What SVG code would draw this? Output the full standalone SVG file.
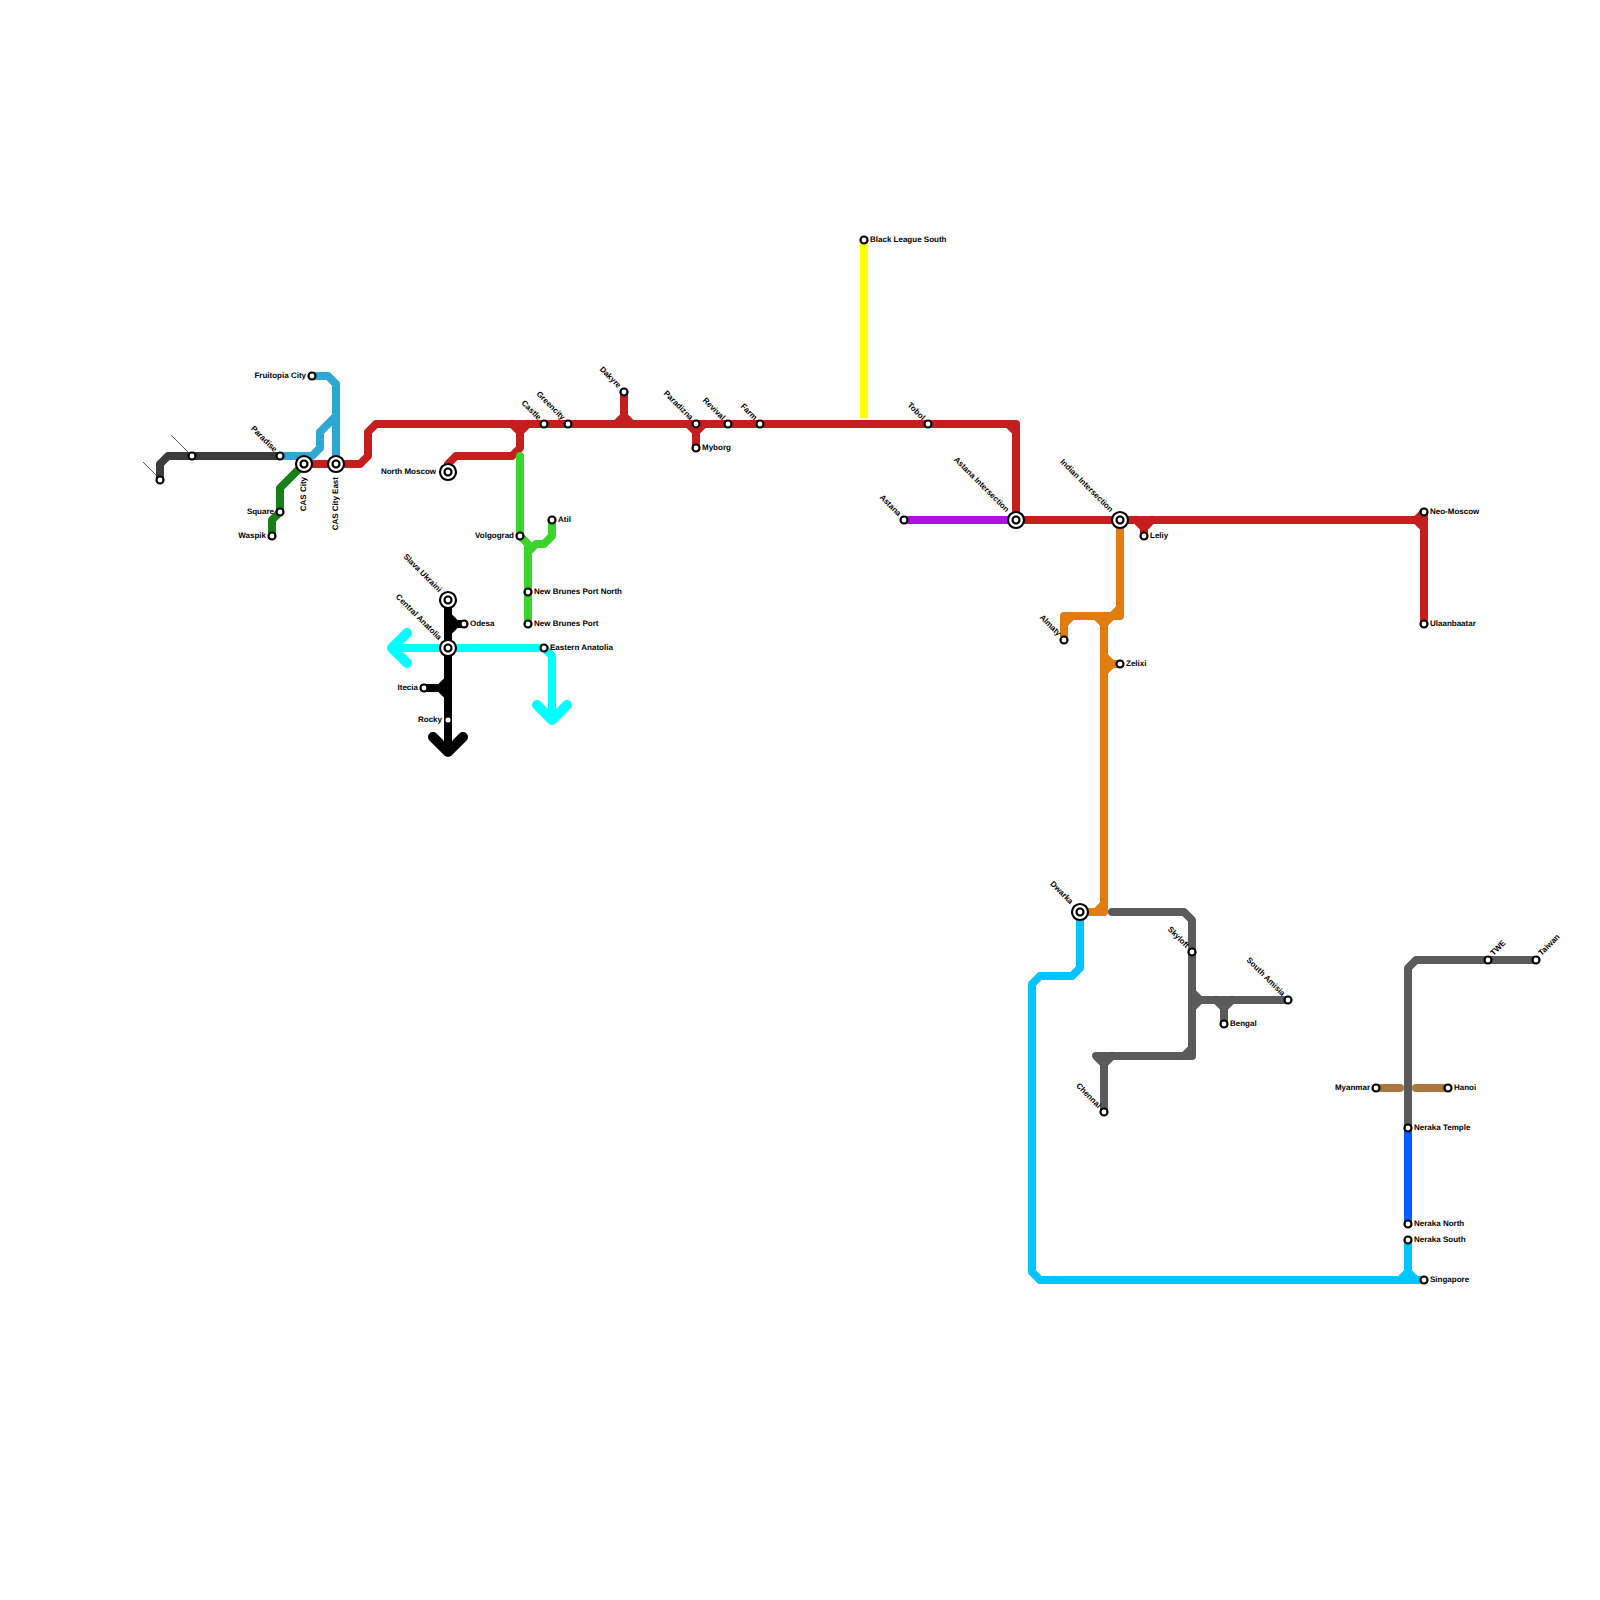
<svg xmlns="http://www.w3.org/2000/svg" width="1600" height="1600" viewBox="0 0 1600 1600">
<style>
.l{fill:none;stroke-width:8;stroke-linejoin:round;stroke-linecap:round}
.b{stroke-linecap:butt}
.h{stroke-width:10}
.s{fill:#fff;stroke:#000;stroke-width:2.2}
.o{fill:#fff;stroke:#000;stroke-width:2.2}
text{font-family:"Liberation Sans",Arial,sans-serif;font-size:8px;font-weight:bold;fill:#000;text-rendering:geometricPrecision;opacity:.999}
.e{text-anchor:end}
.lead{stroke:#333;stroke-width:.8;fill:none}
</style>
<rect width="1600" height="1600" fill="#fff"/>
<g id="connectors">
<path class="lead" d="M171 435L188 452M143 462L157 476"/>
<path class="l" stroke="#3c3c3c" d="M160 480V464L168 456H280"/>
<path class="l" stroke="#2ea8d2" d="M280 456H312L320 448V432L336 416M312 376H328L336 384V464M328 424L336 416"/>
<path class="l" stroke="#178017" d="M304 464L280 488V512L272 520V536"/>
<path class="l" stroke="#c41e1e" d="M304 464H360L368 456V432L376 424H1008L1016 432V520H1416M1424 512V624M1416 520L1424 528M1416 520L1424 512M512 424L520 432V448L512 456H456L448 464V472M528 424L520 432M624 392V416L616 424M624 416L632 424M688 424L696 432V448M704 424L696 432M1136 520L1144 528V536M1152 520L1144 528M1008 424H1016V432"/>
<path class="l" stroke="#b010e0" d="M904 520H1016"/>
<path class="l b" stroke="#ffff00" d="M864 240V418"/>
<path class="l" stroke="#3ad42a" d="M520 456V536L528 544V624M528 552L536 544H544L552 536V520"/>
<path class="l" stroke="#000" d="M448 600V752M448 616L456 624H464M456 624L448 632M424 688H440L448 680M440 688L448 696"/>
<path class="l h" stroke="#000" d="M433 737L448 752L463 737"/>
<path class="l" stroke="#00ffff" d="M448 648H392M448 648H544L552 656V720"/>
<path class="l h" stroke="#00ffff" d="M407 633L392 648L407 663M537 705L552 720L567 705"/>
<path class="l" stroke="#e07c10" d="M1120 520V616H1064V640M1064 624L1072 616M1120 608L1112 616M1096 616L1104 624V912H1080M1112 616L1104 624M1104 656L1112 664H1120M1112 664L1104 672M1096 912L1104 904"/>
<path class="l" stroke="#00c4ff" d="M1080 912V968L1072 976H1040L1032 984V1272L1040 1280H1424M1408 1240V1272L1400 1280M1408 1272L1416 1280"/>
<path class="l" stroke="#5a5a5a" d="M1112 912H1184L1192 920V1056H1096L1104 1064V1112M1192 1048L1184 1056M1112 1056L1104 1064M1192 992L1200 1000H1288M1200 1000L1192 1008M1216 1000L1224 1008V1024M1232 1000L1224 1008M1408 1128V968L1416 960H1536"/>
<path class="l" stroke="#0060ff" d="M1408 1128V1224"/>
<path class="l" stroke="#a87840" d="M1376 1088H1400M1416 1088H1448"/>
</g>
<g id="st1"><circle class="s" cx="160" cy="480" r="3.5"/></g>
<g id="st2"><circle class="s" cx="192" cy="456" r="3.5"/></g>
<g id="paradise"><circle class="s" cx="280" cy="456" r="3.5"/><text class="e" transform="translate(274 452.5) rotate(45)">Paradise</text></g>
<g id="cas-city"><circle class="o" cx="304" cy="464" r="8"/><circle class="s" cx="304" cy="464" r="3.5"/><text class="e" transform="translate(305.5 477) rotate(-90)">CAS City</text></g>
<g id="cas-city-east"><circle class="o" cx="336" cy="464" r="8"/><circle class="s" cx="336" cy="464" r="3.5"/><text class="e" transform="translate(337.5 477) rotate(-90)">CAS City East</text></g>
<g id="fruitopia"><circle class="s" cx="312" cy="376" r="3.5"/><text class="e" x="306" y="378">Fruitopia City</text></g>
<g id="square"><circle class="s" cx="280" cy="512" r="3.5"/><text class="e" x="274" y="514">Square</text></g>
<g id="waspik"><circle class="s" cx="272" cy="536" r="3.5"/><text class="e" x="266" y="538">Waspik</text></g>
<g id="north-moscow"><circle class="o" cx="448" cy="472" r="8"/><circle class="s" cx="448" cy="472" r="3.5"/><text class="e" x="436" y="474">North Moscow</text></g>
<g id="castle"><circle class="s" cx="544" cy="424" r="3.5"/><text class="e" transform="translate(538 420.5) rotate(45)">Castle</text></g>
<g id="greencity"><circle class="s" cx="568" cy="424" r="3.5"/><text class="e" transform="translate(562 420.5) rotate(45)">Greencity</text></g>
<g id="dakyre"><circle class="s" cx="624" cy="392" r="3.5"/><text class="e" transform="translate(618 388.5) rotate(45)">Dakyre</text></g>
<g id="paradizna"><circle class="s" cx="696" cy="424" r="3.5"/><text class="e" transform="translate(690 420.5) rotate(45)">Paradizna</text></g>
<g id="myborg"><circle class="s" cx="696" cy="448" r="3.5"/><text x="702" y="450">Myborg</text></g>
<g id="revival"><circle class="s" cx="728" cy="424" r="3.5"/><text class="e" transform="translate(722 420.5) rotate(45)">Revival</text></g>
<g id="farm"><circle class="s" cx="760" cy="424" r="3.5"/><text class="e" transform="translate(754 420.5) rotate(45)">Farm</text></g>
<g id="tobol"><circle class="s" cx="928" cy="424" r="3.5"/><text class="e" transform="translate(922 420.5) rotate(45)">Tobol</text></g>
<g id="black-league-south"><circle class="s" cx="864" cy="240" r="3.5"/><text x="870" y="242">Black League South</text></g>
<g id="astana"><circle class="s" cx="904" cy="520" r="3.5"/><text class="e" transform="translate(898 516.5) rotate(45)">Astana</text></g>
<g id="astana-intersection"><circle class="o" cx="1016" cy="520" r="8"/><circle class="s" cx="1016" cy="520" r="3.5"/><text class="e" transform="translate(1006 512.5) rotate(45)">Astana Intersection</text></g>
<g id="indian-intersection"><circle class="o" cx="1120" cy="520" r="8"/><circle class="s" cx="1120" cy="520" r="3.5"/><text class="e" transform="translate(1110 512.5) rotate(45)">Indian Intersection</text></g>
<g id="leliy"><circle class="s" cx="1144" cy="536" r="3.5"/><text x="1150" y="538">Leliy</text></g>
<g id="neo-moscow"><circle class="s" cx="1424" cy="512" r="3.5"/><text x="1430" y="514">Neo-Moscow</text></g>
<g id="ulaanbaatar"><circle class="s" cx="1424" cy="624" r="3.5"/><text x="1430" y="626">Ulaanbaatar</text></g>
<g id="volgograd"><circle class="s" cx="520" cy="536" r="3.5"/><text class="e" x="514" y="538">Volgograd</text></g>
<g id="atil"><circle class="s" cx="552" cy="520" r="3.5"/><text x="558" y="522">Atil</text></g>
<g id="nbpn"><circle class="s" cx="528" cy="592" r="3.5"/><text x="534" y="594">New Brunes Port North</text></g>
<g id="nbp"><circle class="s" cx="528" cy="624" r="3.5"/><text x="534" y="626">New Brunes Port</text></g>
<g id="eastern-anatolia"><circle class="s" cx="544" cy="648" r="3.5"/><text x="550" y="650">Eastern Anatolia</text></g>
<g id="slava-ukraini"><circle class="o" cx="448" cy="600" r="8"/><circle class="s" cx="448" cy="600" r="3.5"/><text class="e" transform="translate(438.500 592.500) rotate(45)">Slava Ukraini</text></g>
<g id="central-anatolia"><circle class="o" cx="448" cy="648" r="8"/><circle class="s" cx="448" cy="648" r="3.5"/><text class="e" transform="translate(438.500 640.500) rotate(45)">Central Anatolia</text></g>
<g id="odesa"><circle class="s" cx="464" cy="624" r="3.5"/><text x="470" y="626">Odesa</text></g>
<g id="itecia"><circle class="s" cx="424" cy="688" r="3.5"/><text class="e" x="418" y="690">Itecia</text></g>
<g id="rocky"><circle cx="448" cy="720" r="2.5" fill="#fff"/><text class="e" x="442" y="722">Rocky</text></g>
<g id="almaty"><circle class="s" cx="1064" cy="640" r="3.5"/><text class="e" transform="translate(1058 636.500) rotate(45)">Almaty</text></g>
<g id="zelixi"><circle class="s" cx="1120" cy="664" r="3.5"/><text x="1126" y="666">Zelixi</text></g>
<g id="dwarka"><circle class="o" cx="1080" cy="912" r="8"/><circle class="s" cx="1080" cy="912" r="3.5"/><text class="e" transform="translate(1070 904.500) rotate(45)">Dwarka</text></g>
<g id="skyloft"><circle class="s" cx="1192" cy="952" r="3.5"/><text class="e" transform="translate(1186 948.500) rotate(45)">Skyloft</text></g>
<g id="south-amisia"><circle class="s" cx="1288" cy="1000" r="3.5"/><text class="e" transform="translate(1282 996.500) rotate(45)">South Amisia</text></g>
<g id="bengal"><circle class="s" cx="1224" cy="1024" r="3.5"/><text x="1230" y="1026">Bengal</text></g>
<g id="chennai"><circle class="s" cx="1104" cy="1112" r="3.5"/><text class="e" transform="translate(1098 1108.500) rotate(45)">Chennai</text></g>
<g id="twe"><circle class="s" cx="1488" cy="960" r="3.5"/><text transform="translate(1493.500 956) rotate(-45)">TWE</text></g>
<g id="taiwan"><circle class="s" cx="1536" cy="960" r="3.5"/><text transform="translate(1541.500 956) rotate(-45)">Taiwan</text></g>
<g id="myanmar"><circle class="s" cx="1376" cy="1088" r="3.5"/><text class="e" x="1370" y="1090">Myanmar</text></g>
<g id="hanoi"><circle class="s" cx="1448" cy="1088" r="3.5"/><text x="1454" y="1090">Hanoi</text></g>
<g id="neraka-temple"><circle class="s" cx="1408" cy="1128" r="3.5"/><text x="1414" y="1130">Neraka Temple</text></g>
<g id="neraka-north"><circle class="s" cx="1408" cy="1224" r="3.5"/><text x="1414" y="1226">Neraka North</text></g>
<g id="neraka-south"><circle class="s" cx="1408" cy="1240" r="3.5"/><text x="1414" y="1242">Neraka South</text></g>
<g id="singapore"><circle class="s" cx="1424" cy="1280" r="3.5"/><text x="1430" y="1282">Singapore</text></g>
</svg>
